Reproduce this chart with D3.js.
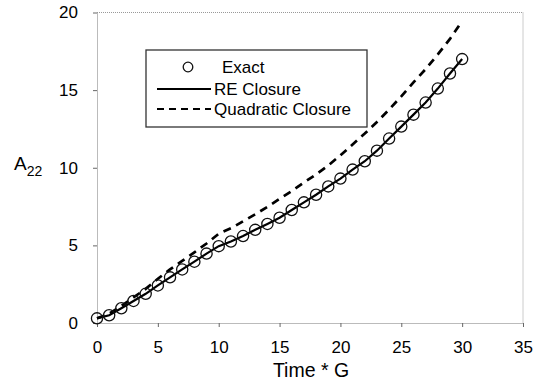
<!DOCTYPE html>
<html>
<head>
<meta charset="utf-8">
<script src="https://cdn.jsdelivr.net/npm/d3@7"></script>
<style>
body { margin: 0; background: #fff; }
svg { font-family: "Liberation Sans", Arial, sans-serif; }
.axis .domain { stroke: #777; stroke-dasharray: 1, 1; }
.axis line { stroke: #666; }
.axis text { font-size: 17px; fill: #000; }
</style>
</head>
<body>
<svg></svg>
<script>
// time * G at each sample
var times = d3.range(0, 31);

// exact solution (circles)
var exact = [0.3, 0.5, 0.95, 1.42, 1.88, 2.42, 2.94, 3.45, 3.95, 4.47, 4.95,
             5.25, 5.6, 6.0, 6.38, 6.78, 7.28, 7.77, 8.26, 8.8, 9.3,
             9.88, 10.42, 11.1, 11.88, 12.65, 13.42, 14.2, 15.1, 16.07, 17.0];

// RE closure (solid line)
var reClosure = [0.3, 0.5, 0.95, 1.42, 1.88, 2.42, 2.94, 3.45, 3.95, 4.47, 4.95,
                 5.25, 5.6, 6.0, 6.38, 6.78, 7.28, 7.77, 8.26, 8.8, 9.3,
                 9.88, 10.42, 11.1, 11.88, 12.65, 13.42, 14.2, 15.1, 16.07, 17.0];

// quadratic closure (dashed line)
var quadClosure = [0.3, 0.6, 1.1, 1.65, 2.2, 2.85, 3.45, 4.0, 4.55, 5.12, 5.75,
                   6.1, 6.55, 7.0, 7.48, 8.0, 8.5, 9.05, 9.57, 10.15, 10.8,
                   11.5, 12.2, 12.95, 13.75, 14.6, 15.5, 16.35, 17.3, 18.3, 19.45];

var xTicks = [0, 5, 10, 15, 20, 25, 30, 35];
var yTicks = [0, 5, 10, 15, 20];

var width = 539, height = 390;
var plotL = 97, plotR = 523, plotT = 12.5, plotB = 323;

var svg = d3.select("svg").attr("width", width).attr("height", height);

var x = d3.scaleLinear().domain([0, 35]).range([plotL, plotR]);
var y = d3.scaleLinear().domain([0, 20]).range([plotB, plotT]);

// frame (top and right dotted)
svg.append("path")
    .attr("d", "M" + plotL + "," + plotT + "H" + plotR + "V" + plotB)
    .attr("fill", "none")
    .attr("stroke", "#999")
    .attr("stroke-dasharray", "1,1");

svg.append("g")
    .attr("class", "axis")
    .attr("transform", "translate(0," + plotB + ")")
    .call(d3.axisBottom(x).tickValues(xTicks).tickSize(4).tickSizeOuter(0).tickPadding(14));

svg.append("g")
    .attr("class", "axis")
    .attr("transform", "translate(" + plotL + ",0)")
    .call(d3.axisLeft(y).tickValues(yTicks).tickSize(4).tickSizeOuter(0).tickPadding(15));

// axis titles
svg.append("text")
    .attr("x", 311).attr("y", 377)
    .attr("text-anchor", "middle")
    .style("font-size", "19.5px")
    .text("Time * G");

var ylab = svg.append("text")
    .attr("x", 14).attr("y", 170)
    .style("font-size", "19px");
ylab.append("tspan").text("A");
ylab.append("tspan").attr("dy", 6).style("font-size", "14px").text("22");

// series
var line = d3.line()
    .x(function(d, i) { return x(times[i]); })
    .y(function(d) { return y(d); });

svg.append("path")
    .datum(quadClosure)
    .attr("d", line)
    .attr("fill", "none")
    .attr("stroke", "#000")
    .attr("stroke-width", 2.7)
    .attr("stroke-dasharray", "8,6");

svg.append("path")
    .datum(reClosure)
    .attr("d", line)
    .attr("fill", "none")
    .attr("stroke", "#000")
    .attr("stroke-width", 2.2);

svg.selectAll("circle.exact")
    .data(exact)
    .enter().append("circle")
    .attr("class", "exact")
    .attr("cx", function(d, i) { return x(times[i]); })
    .attr("cy", function(d) { return y(d); })
    .attr("r", 5.6)
    .attr("fill", "none")
    .attr("stroke", "#111")
    .attr("stroke-width", 1.3);

// legend
var lg = svg.append("g");
lg.append("rect")
    .attr("x", 146).attr("y", 50)
    .attr("width", 221).attr("height", 77)
    .attr("fill", "#fff")
    .attr("stroke", "#333")
    .attr("stroke-width", 1.3);

lg.append("circle")
    .attr("cx", 188).attr("cy", 67).attr("r", 4.8)
    .attr("fill", "none").attr("stroke", "#111").attr("stroke-width", 1.3);
lg.append("line")
    .attr("x1", 157).attr("x2", 211).attr("y1", 89).attr("y2", 89)
    .attr("stroke", "#000").attr("stroke-width", 2.2);
lg.append("line")
    .attr("x1", 157).attr("x2", 211).attr("y1", 109).attr("y2", 109)
    .attr("stroke", "#000").attr("stroke-width", 2.2)
    .attr("stroke-dasharray", "7,5");

var labels = [["Exact", 222, 73], ["RE Closure", 214, 95], ["Quadratic Closure", 214, 115]];
lg.selectAll("text")
    .data(labels)
    .enter().append("text")
    .attr("x", function(d) { return d[1]; })
    .attr("y", function(d) { return d[2]; })
    .style("font-size", "17px")
    .text(function(d) { return d[0]; });
</script>
</body>
</html>
